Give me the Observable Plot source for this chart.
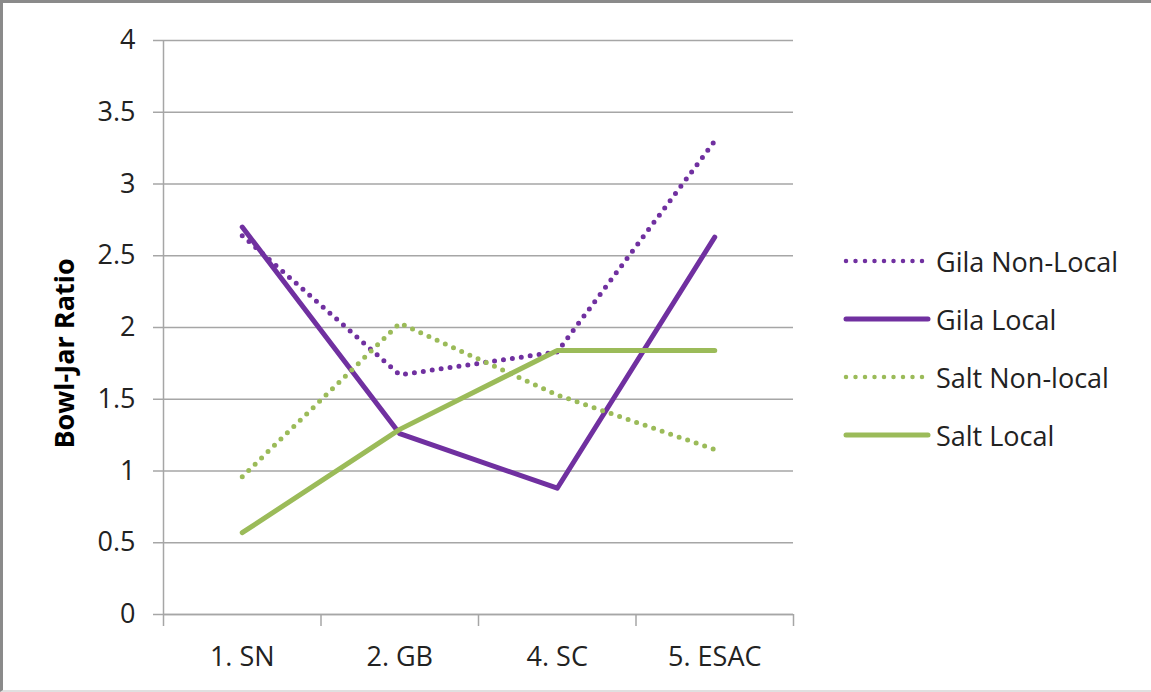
<!DOCTYPE html>
<html>
<head>
<meta charset="utf-8">
<script src="https://cdn.jsdelivr.net/npm/d3@7"></script>
<script src="https://cdn.jsdelivr.net/npm/@observablehq/plot@0.6"></script>
<style>
  html, body { margin: 0; padding: 0; background: #fff; }
  #frame {
    position: relative; width: 1151px; height: 692px; box-sizing: border-box;
    border-left: 3px solid #8a8a8a; border-top: 3px solid #8a8a8a;
    border-bottom: 2px solid #e0e0e0;
    font-family: "Open Sans", sans-serif; overflow: hidden;
  }
  #chart { position: absolute; left: -3px; top: -3px; }
  #legend { position: absolute; left: 837px; top: 226px; }
  .row { position: absolute; left: 0; height: 40px; display: flex; align-items: center; white-space: nowrap; }
  .row span { font-size: 27px; color: #222; margin-left: 4px; }
</style>
</head>
<body>
<div id="frame">
  <div id="chart"></div>
  <div id="legend"></div>
</div>
<script>
// Sites along the x axis
const categories = ["1. SN", "2. GB", "4. SC", "5. ESAC"];

// Bowl-to-jar ratio per site
const gilaNonLocal = [2.64, 1.67, 1.83, 3.30];
const gilaLocal    = [2.70, 1.26, 0.88, 2.63];
const saltNonLocal = [0.96, 2.03, 1.53, 1.15];
const saltLocal    = [0.57, 1.29, 1.84, 1.84];

const yTicks = [0, 0.5, 1, 1.5, 2, 2.5, 3, 3.5, 4];

const purple = "#7030A0";
const green = "#9BBB59";

const seriesDefs = [
  {name: "Gila Non-Local", values: gilaNonLocal, color: purple, dotted: true},
  {name: "Gila Local",     values: gilaLocal,    color: purple, dotted: false},
  {name: "Salt Non-local", values: saltNonLocal, color: green,  dotted: true},
  {name: "Salt Local",     values: saltLocal,    color: green,  dotted: false}
];

const rows = seriesDefs.flatMap(s =>
  s.values.map((v, i) => ({series: s.name, i, value: v}))
);

// Category index positions; band edges sit halfway between them
const idx = categories.map((_, i) => i);
const edges = [-0.5, ...idx.map(i => i + 0.5)];

const lineMarks = seriesDefs.map(s =>
  Plot.line(rows.filter(d => d.series === s.name), {
    x: "i", y: "value",
    stroke: s.color,
    strokeWidth: 5,
    strokeDasharray: s.dotted ? "0 9" : null,
    strokeLinecap: "round",
    strokeLinejoin: "round"
  })
);

const chart = Plot.plot({
  width: 1151,
  height: 692,
  marginLeft: 163,
  marginRight: 358,
  marginTop: 40,
  marginBottom: 78,
  style: {fontFamily: "Open Sans, sans-serif", fontSize: "27px", color: "#222", background: "transparent"},
  x: {domain: [-0.5, categories.length - 0.5]},
  y: {domain: [0, 4]},
  marks: [
    Plot.gridY(yTicks, {stroke: "#a6a6a6", strokeOpacity: 1, strokeWidth: 1.5}),
    Plot.ruleX([-0.5], {y1: 0, y2: 4, stroke: "#a6a6a6", strokeWidth: 1.5}),
    Plot.ruleY([0], {stroke: "#a6a6a6", strokeWidth: 1.5}),
    Plot.axisY(yTicks, {
      tickSize: 10, tickPadding: 18, stroke: "#a6a6a6", strokeWidth: 1.5,
      tickFormat: d => String(d), label: null, fill: "#222"
    }),
    Plot.axisX(edges, {
      tickSize: 12, tickFormat: () => "", stroke: "#a6a6a6", strokeWidth: 1.5, label: null
    }),
    Plot.axisX(idx, {
      tickSize: 0, tickPadding: 32, tickFormat: i => categories[i], label: null, fill: "#222"
    }),
    Plot.text(["Bowl-Jar Ratio"], {
      frameAnchor: "left", textAnchor: "middle", rotate: -90, dx: -98, dy: 26,
      fontWeight: "bold", fontSize: 27, fill: "#000"
    }),
    ...lineMarks
  ]
});
document.getElementById("chart").appendChild(chart);

// Legend: one row per series with a line swatch
const legend = d3.select("#legend");
seriesDefs.forEach((s, k) => {
  const row = legend.append("div").attr("class", "row").style("top", (k * 58 + 12) + "px");
  const svg = row.append("svg").attr("width", 92).attr("height", 12);
  svg.append("line")
    .attr("x1", 6).attr("x2", s.dotted ? 84 : 88).attr("y1", 6).attr("y2", 6)
    .attr("stroke", s.color).attr("stroke-width", s.dotted ? 4.5 : 5)
    .attr("stroke-linecap", "round")
    .attr("stroke-dasharray", s.dotted ? "0 9.5" : null);
  row.append("span").text(s.name);
});
</script>
</body>
</html>
